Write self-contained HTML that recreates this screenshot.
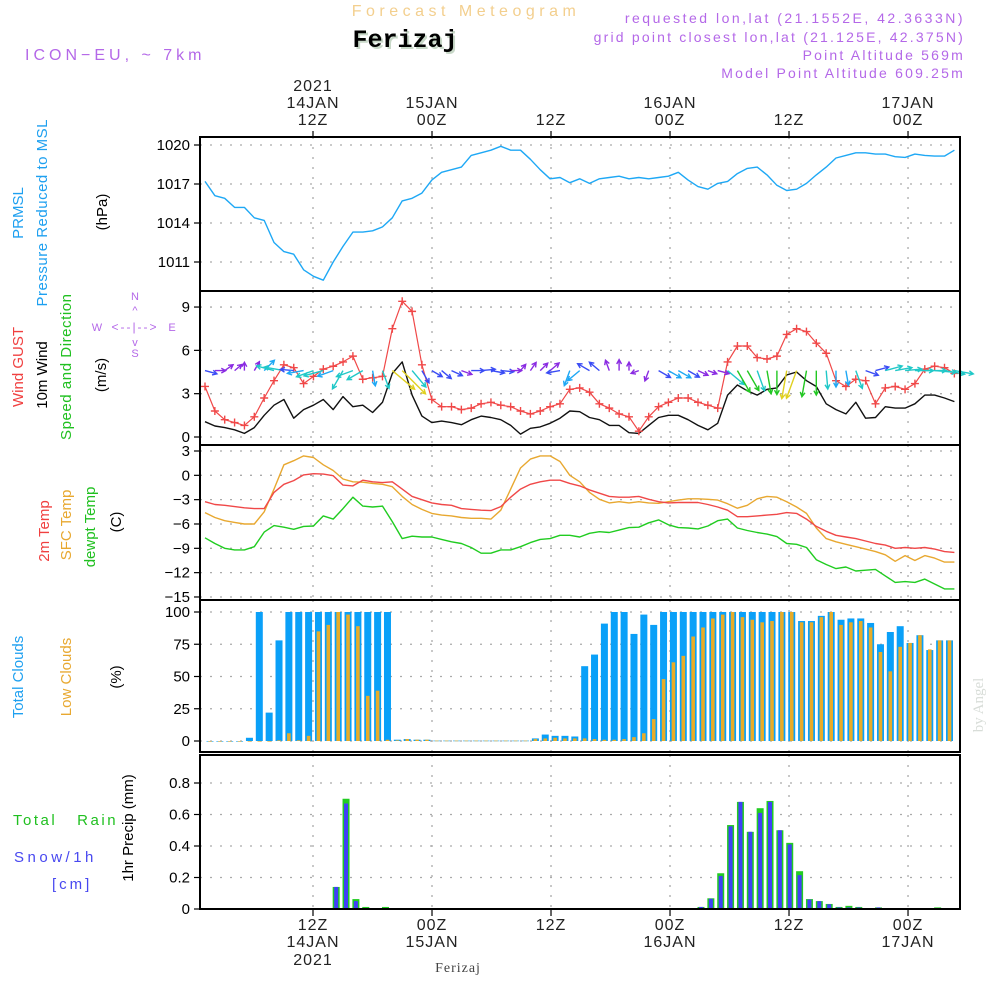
<!DOCTYPE html>
<html><head><meta charset="utf-8"><style>
html,body{margin:0;padding:0;background:#fff}
svg{display:block}
text{font-family:"Liberation Sans",sans-serif}
</style></head><body>
<svg id="chart" width="1000" height="1000" viewBox="0 0 1000 1000" xmlns="http://www.w3.org/2000/svg">
<text x="466" y="16" font-size="16" fill="#f3cf8e" text-anchor="middle" letter-spacing="4.5">Forecast Meteogram</text>
<text x="407" y="49" font-size="25" font-weight="bold" fill="#c8d8c8" text-anchor="middle" style="font-family:'Liberation Mono',monospace">Ferizaj</text>
<text x="405" y="47" font-size="25" font-weight="bold" fill="#000" text-anchor="middle" style="font-family:'Liberation Mono',monospace">Ferizaj</text>
<text x="25" y="60" font-size="16" fill="#b468e8" letter-spacing="4">ICON−EU, ~ 7km</text>
<text x="965" y="23" font-size="14" fill="#b468e8" text-anchor="end" letter-spacing="2.5">requested lon,lat (21.1552E, 42.3633N)</text>
<text x="965" y="42" font-size="14" fill="#b468e8" text-anchor="end" letter-spacing="2.2">grid point closest lon,lat (21.125E, 42.375N)</text>
<text x="965" y="60" font-size="14" fill="#b468e8" text-anchor="end" letter-spacing="2.2">Point Altitude 569m</text>
<text x="965" y="78" font-size="14" fill="#b468e8" text-anchor="end" letter-spacing="2.2">Model Point Altitude 609.25m</text>
<text transform="translate(983,705) rotate(-90)" font-size="15" fill="#d8ddd8" text-anchor="middle" style="font-family:'Liberation Serif',serif">by Angel</text>
<text x="458" y="972" font-size="14" fill="#444" text-anchor="middle" style="font-family:'Liberation Serif',serif" letter-spacing="1">Ferizaj</text>

<g font-size="15">
<text transform="translate(23,213) rotate(-90)" text-anchor="middle" fill="#1ea0f0">PRMSL</text>
<text transform="translate(47,213) rotate(-90)" text-anchor="middle" fill="#1ea0f0" textLength="187">Pressure Reduced to MSL</text>
<text transform="translate(107,212) rotate(-90)" text-anchor="middle" fill="#000">(hPa)</text>
<text transform="translate(23,367) rotate(-90)" text-anchor="middle" fill="#f04040">Wind GUST</text>
<text transform="translate(47,375) rotate(-90)" text-anchor="middle" fill="#000">10m Wind</text>
<text transform="translate(71,367) rotate(-90)" text-anchor="middle" fill="#20c020" textLength="146">Speed and Direction</text>
<text transform="translate(106,375) rotate(-90)" text-anchor="middle" fill="#000">(m/s)</text>
<text transform="translate(49,531) rotate(-90)" text-anchor="middle" fill="#f04040">2m Temp</text>
<text transform="translate(71,525) rotate(-90)" text-anchor="middle" fill="#e8a830">SFC Temp</text>
<text transform="translate(95,527) rotate(-90)" text-anchor="middle" fill="#20c020">dewpt Temp</text>
<text transform="translate(121,522) rotate(-90)" text-anchor="middle" fill="#000">(C)</text>
<text transform="translate(23,677) rotate(-90)" text-anchor="middle" fill="#1ea0f0">Total Clouds</text>
<text transform="translate(71,677) rotate(-90)" text-anchor="middle" fill="#e8a830">Low Clouds</text>
<text transform="translate(121,677) rotate(-90)" text-anchor="middle" fill="#000">(%)</text>
<text transform="translate(133,828) rotate(-90)" text-anchor="middle" fill="#000">1hr Precip (mm)</text>
<text x="13" y="825" fill="#20c020" letter-spacing="2.5" xml:space="preserve">Total   Rain</text>
<text x="14" y="862" fill="#4848f0" letter-spacing="3.5">Snow/1h</text>
<text x="52" y="889" fill="#4848f0" letter-spacing="3">[cm]</text>
</g>
<g font-size="11" fill="#b468e8" text-anchor="middle">
<text x="135" y="300">N</text><text x="97" y="331">W</text><text x="172" y="331">E</text><text x="135" y="357">S</text>
<text x="135" y="331" font-size="12" letter-spacing="2">&lt;--|--&gt;</text>
<text x="135" y="314" font-size="11">^</text><text x="135" y="346" font-size="11">v</text>
</g>
<g id="plot"></g>
</svg>
<script>
const tickHours = [12,24,36,48,60,72];
const tickTimeLabels = ["12Z","00Z","12Z","00Z","12Z","00Z"];
const tickDateLabels = ["14JAN","15JAN","","16JAN","","17JAN"];
const pressureTicks = [1011,1014,1017,1020];
const windTicks = [0,3,6,9];
const tempTicks = [3,0,-3,-6,-9,-12,-15];
const cloudTicks = [0,25,50,75,100];
const precipTicks = [0,0.2,0.4,0.6,0.8];
const pressure = [1017.2,1016.1,1015.9,1015.2,1015.2,1014.4,1014.2,1012.5,1011.8,1011.6,1010.4,1009.9,1009.6,1011,1012.2,1013.3,1013.3,1013.4,1013.7,1014.4,1015.7,1015.9,1016.3,1017.3,1017.9,1018.1,1018.3,1019.2,1019.4,1019.6,1019.9,1019.6,1019.6,1018.9,1018.1,1017.4,1017.5,1017.1,1017.4,1017.05,1017.4,1017.5,1017.6,1017.4,1017.5,1017.4,1017.5,1017.6,1017.9,1017.3,1016.8,1016.6,1017.05,1017.2,1017.8,1018.2,1018.3,1017.7,1016.9,1016.5,1016.6,1017.05,1017.7,1018.3,1019.0,1019.2,1019.4,1019.4,1019.3,1019.3,1019.1,1019.05,1019.3,1019.2,1019.15,1019.15,1019.6];
const gust = [3.5,1.8,1.2,1.0,0.8,1.4,2.7,3.9,5.0,4.8,3.7,4.2,4.7,4.9,5.2,5.6,4.0,4.1,4.2,7.5,9.4,8.7,5.0,2.6,2.1,2.1,1.9,2.0,2.3,2.4,2.2,2.1,1.8,1.6,1.8,2.1,2.3,3.3,3.4,3.1,2.3,2.0,1.6,1.4,0.4,1.4,2.1,2.4,2.7,2.7,2.4,2.2,2.0,5.2,6.3,6.3,5.5,5.4,5.6,7.1,7.5,7.3,6.5,5.8,3.9,3.5,4.0,3.9,2.3,3.4,3.5,3.3,3.7,4.7,4.9,4.8,4.4];
const wind = [1.06,0.76,0.65,0.5,0.25,0.65,1.5,2.2,2.6,1.3,1.9,2.2,2.6,1.9,2.8,2.1,2.2,1.7,2.4,4.4,5.2,2.9,1.45,1.0,1.1,1.0,0.85,1.2,1.45,1.35,1.2,0.8,0.2,0.6,0.7,0.95,1.3,1.8,1.75,1.35,1.2,0.8,0.8,0.3,0.25,0.8,1.35,1.5,1.5,1.2,0.8,0.5,0.95,2.9,3.6,3.2,2.9,3.3,3.4,4.3,4.5,3.9,3.5,2.3,1.9,1.6,2.4,1.3,1.35,2.1,2.0,2.0,2.3,2.9,2.9,2.7,2.45];
const windDir = [-15,0,35,40,90,60,45,165,170,175,190,200,195,200,240,200,210,280,290,320,315,310,300,330,320,335,340,0,5,350,355,0,50,55,45,40,190,250,220,150,140,110,90,90,200,250,330,330,330,330,335,340,345,320,300,300,290,280,270,260,250,260,270,275,270,280,290,340,15,15,10,5,0,0,355,350,350];
const temp2m = [-3.25,-3.6,-3.7,-3.85,-4.0,-4.1,-4.1,-2.1,-1.1,-0.65,0.05,0.2,0.15,-0.05,-1.2,-1.3,-0.6,-0.8,-0.9,-0.8,-1.7,-2.6,-3.0,-3.4,-3.6,-3.7,-4.1,-4.2,-4.3,-4.35,-3.85,-2.7,-1.7,-1.1,-0.8,-0.6,-0.6,-1.0,-1.3,-1.8,-2.2,-2.6,-2.7,-2.7,-2.6,-2.95,-3.25,-3.4,-3.35,-3.35,-3.35,-3.6,-3.9,-4.3,-5.1,-5.1,-5.0,-4.9,-4.8,-4.6,-4.7,-5.4,-6.3,-6.9,-7.4,-7.6,-7.8,-8.1,-8.4,-8.6,-9.0,-8.9,-9.0,-8.9,-9.1,-9.4,-9.5];
const tempSfc = [-4.6,-5.2,-5.6,-5.8,-6.0,-6.0,-4.5,-1.7,1.3,1.8,2.4,2.2,1.3,0.6,-0.45,-0.8,-0.85,-1.0,-1.1,-1.4,-2.6,-3.6,-4.2,-4.7,-4.9,-5.0,-5.2,-5.3,-5.3,-5.4,-4.3,-1.7,0.9,2.0,2.4,2.4,1.7,0.0,-0.8,-2.1,-2.95,-3.4,-3.25,-3.4,-3.25,-3.4,-3.45,-3.25,-3.05,-2.9,-2.9,-2.95,-3.05,-3.5,-4.05,-3.7,-2.9,-2.6,-2.7,-3.25,-3.9,-4.7,-6.5,-7.8,-8.2,-8.5,-8.8,-9.1,-9.4,-9.8,-10.6,-9.9,-10.5,-9.9,-10.2,-10.7,-10.7];
const dewpt = [-7.7,-8.4,-9.0,-9.2,-9.2,-8.8,-7.0,-6.2,-6.4,-6.65,-6.3,-6.25,-5.0,-5.4,-4.1,-2.7,-3.8,-3.9,-3.8,-5.7,-7.8,-7.5,-7.6,-7.6,-7.9,-8.2,-8.4,-8.9,-9.6,-9.6,-9.2,-9.2,-8.8,-8.3,-7.9,-7.8,-7.4,-7.4,-7.6,-7.15,-6.95,-7.05,-6.75,-6.45,-6.4,-5.85,-5.5,-6.1,-6.45,-6.5,-6.6,-6.25,-5.6,-5.4,-6.5,-6.8,-7.05,-7.25,-7.55,-8.4,-8.5,-8.9,-10.4,-11.0,-11.5,-11.3,-11.8,-11.7,-11.6,-12.4,-13.2,-13.1,-13.2,-12.8,-13.4,-14.0,-14.0];
const totalClouds = [0,0,0,0,2.5,100,22,78,100,100,100,100,100,100,100,100,100,100,100,1,1.5,1,1,0.3,0.3,0.3,0.3,0.3,0.3,0.3,0.3,0.3,0.3,2,5,4,4,3.5,58,67,91,100,100,83,98,90,100,100,100,100,100,100,100,100,100,100,100,100,100,100,93,93,97,100,94,95,95,91.5,75,84.5,89,76,82,70.5,78,78];
const lowClouds = [0,0,0,0,0,0,0,0.5,6,0.5,4,85,90,100,98,89,35,39,1,0.5,1.5,1,1,0.3,0.3,0.3,0.3,0.3,0.3,0.3,0.3,0.3,0.3,1.5,2,2.5,2,2,2,1.5,1,1,1.5,3,6,17,48,61,66,81,88,95,98,100,96,94,92,93,100,100,92,92,96,100,90,92,93,88,69,54,73,76,82,71,78,78];
const rainTotal = [0,0,0,0,0,0,0,0,0,0,0,0,0,0.14,0.70,0.063,0.013,0,0.013,0,0,0,0,0,0,0,0,0,0,0,0,0,0,0,0,0,0,0,0,0,0,0,0,0,0,0,0,0,0,0,0.013,0.068,0.227,0.533,0.68,0.49,0.64,0.686,0.50,0.42,0.24,0.063,0.05,0.032,0.013,0.02,0.013,0,0.01,0,0,0,0,0,0.01,0];
const snowHr = [0,0,0,0,0,0,0,0,0,0,0,0,0,0.14,0.67,0.05,0.005,0,0,0,0,0,0,0,0,0,0,0,0,0,0,0,0,0,0,0,0,0,0,0,0,0,0,0,0,0,0,0,0,0,0.013,0.065,0.21,0.525,0.68,0.49,0.61,0.68,0.50,0.41,0.215,0.06,0.05,0.03,0.01,0.01,0.01,0,0.01,0.005,0,0,0,0,0.005,0.005];

const X0=200, X1=960;
const xT = h => 313 + (h-12)*9.917;
const xL = i => 205 + i*9.86;
const xB = i => 210 + i*9.86;
const xP = i => 208 + i*9.86;
const panels = {
  p:{top:137,bot:291, y:v=>145+(1020-v)*13},
  w:{top:291,bot:445, y:v=>437-v*14.44},
  t:{top:445,bot:600, y:v=>451+(3-v)*8.11},
  c:{top:600,bot:752, y:v=>741-v*1.29},
  r:{top:755,bot:909, y:v=>909-v*157.5}
};
const NS="http://www.w3.org/2000/svg";
const plot=document.getElementById('plot');
function mk(tag,attrs,parent){const e=document.createElementNS(NS,tag);for(const k in attrs)e.setAttribute(k,attrs[k]);(parent||plot).appendChild(e);return e;}
function txt(s,attrs){const e=mk('text',attrs);e.textContent=s;return e;}

function panelAxes(key,ticks,fmt,name){
  const P=panels[key];
  for(const v of ticks){
    const y=P.y(v);
    const g=mk('line',{x1:X0,x2:X1,y1:y,y2:y,stroke:'#aaa','stroke-width':1.3,'stroke-dasharray':'2,8'});
    
    
    const tk=mk('line',{x1:X0-6,x2:X0,y1:y,y2:y,stroke:'#000','stroke-width':1.2});
    
    
    const t=txt(fmt(v),{x:X0-10,y:y+5,'font-size':15,'text-anchor':'end',fill:'#000'});
    
    
  }
  for(const h of tickHours){
    const x=xT(h);
    const g=mk('line',{x1:x,x2:x,y1:P.top,y2:P.bot,stroke:'#aaa','stroke-width':1.3,'stroke-dasharray':'2,8'});
    
    
  }
}
panelAxes('p',pressureTicks,v=>String(v),'pressure');
panelAxes('w',windTicks,v=>String(v),'wind');
panelAxes('t',tempTicks,v=>v<0?'−'+Math.abs(v):String(v),'temp');
panelAxes('c',cloudTicks,v=>String(v),'cloud');
panelAxes('r',precipTicks,v=>v===0?'0':v.toFixed(1),'precip');

function line(arr,xf,yf,color,name,w){
  const d=arr.map((v,i)=>(i?'L':'M')+xf(i).toFixed(1)+','+yf(v).toFixed(1)).join('');
  const p=mk('path',{d:d,fill:'none',stroke:color,'stroke-width':w||1.4,'stroke-linejoin':'round'});
  
  
  return p;
}
line(pressure,xL,panels.p.y,'#1ea8f5','pressure-line');
line(wind,xL,panels.w.y,'#111','wind-speed-line');
line(gust,xL,panels.w.y,'#f04848','gust-line',1.2);
gust.forEach((v,i)=>{
  const x=xL(i),y=panels.w.y(v);
  const m=mk('path',{d:`M${x-4},${y}H${x+4}M${x},${y-4}V${y+4}`,stroke:'#f04848','stroke-width':1.4});
  
  
});
function arrowColor(v){
  if(v<1) return '#8a2be2';
  if(v<1.5) return '#3a4cf5';
  if(v<2) return '#1ea8f5';
  if(v<3) return '#20c8c8';
  if(v<4) return '#22c822';
  return '#e0d020';
}
windDir.forEach((deg,i)=>{
  const v=wind[i];
  const L=7+v*5;
  const a=deg*Math.PI/180;
  const x0=xL(i), y0=panels.w.y(4.6);
  const x1=x0+L*Math.cos(a), y1=y0-L*Math.sin(a);
  const ha=0.5, hl=5;
  const bx1=x1-hl*Math.cos(a-ha), by1=y1+hl*Math.sin(a-ha);
  const bx2=x1-hl*Math.cos(a+ha), by2=y1+hl*Math.sin(a+ha);
  const c=arrowColor(v);
  const p=mk('path',{d:`M${x0.toFixed(1)},${y0.toFixed(1)}L${x1.toFixed(1)},${y1.toFixed(1)}M${bx1.toFixed(1)},${by1.toFixed(1)}L${x1.toFixed(1)},${y1.toFixed(1)}L${bx2.toFixed(1)},${by2.toFixed(1)}`,stroke:c,'stroke-width':1.4,fill:'none'});
  
  
});
line(tempSfc,xL,panels.t.y,'#e8a830','sfc-temp-line');
line(temp2m,xL,panels.t.y,'#f04848','temp-2m-line');
line(dewpt,xL,panels.t.y,'#20cc20','dewpt-line');
totalClouds.forEach((v,i)=>{
  const y=panels.c.y(v);
  const r=mk('rect',{x:xB(i)-3.5,y:y,width:7,height:Math.max(0.6,741-y),fill:'#0aa0f8'});
  
  
});
lowClouds.forEach((v,i)=>{
  const y=panels.c.y(v);
  const r=mk('rect',{x:xB(i)-1.8,y:y,width:3.6,height:Math.max(0.6,741-y),fill:'#e8ac28'});
  
  
});
rainTotal.forEach((v,i)=>{
  if(v<=0) return;
  const y=panels.r.y(v);
  const r=mk('rect',{x:xP(i)-3.5,y:y,width:7,height:909-y,fill:'#22cc22'});
  
  
});
snowHr.forEach((v,i)=>{
  if(v<=0) return;
  const y=panels.r.y(v);
  const r=mk('rect',{x:xP(i)-2,y:y,width:4,height:909-y,fill:'#4040f8'});
  
  
});
for(const k in panels){
  const P=panels[k];
  const r=mk('rect',{x:X0,y:P.top,width:X1-X0,height:P.bot-P.top,fill:'none',stroke:'#000','stroke-width':2});
  
  
}
tickHours.forEach((h,k)=>{
  const x=xT(h);
  const t1=mk('line',{x1:x,x2:x,y1:131,y2:137,stroke:'#000','stroke-width':1.2});
  
  
  const t2=mk('line',{x1:x,x2:x,y1:909,y2:916,stroke:'#000','stroke-width':1.2});
  
  
  const a=txt(tickTimeLabels[k],{x:x,y:125,'font-size':16,'text-anchor':'middle',fill:'#222','letter-spacing':1});
  
  
  const b=txt(tickTimeLabels[k],{x:x,y:930,'font-size':16,'text-anchor':'middle',fill:'#222','letter-spacing':1});
  
  
  if(tickDateLabels[k]){
    const c=txt(tickDateLabels[k],{x:x,y:108,'font-size':16,'text-anchor':'middle',fill:'#222','letter-spacing':1});
    
    
    const d=txt(tickDateLabels[k],{x:x,y:947,'font-size':16,'text-anchor':'middle',fill:'#222','letter-spacing':1});
    
    
  }
  if(k===0){
    const e=txt('2021',{x:x,y:91,'font-size':16,'text-anchor':'middle',fill:'#222','letter-spacing':1});
    
    
    const f=txt('2021',{x:x,y:965,'font-size':16,'text-anchor':'middle',fill:'#222','letter-spacing':1});
    
    
  }
});
</script>
</body></html>
